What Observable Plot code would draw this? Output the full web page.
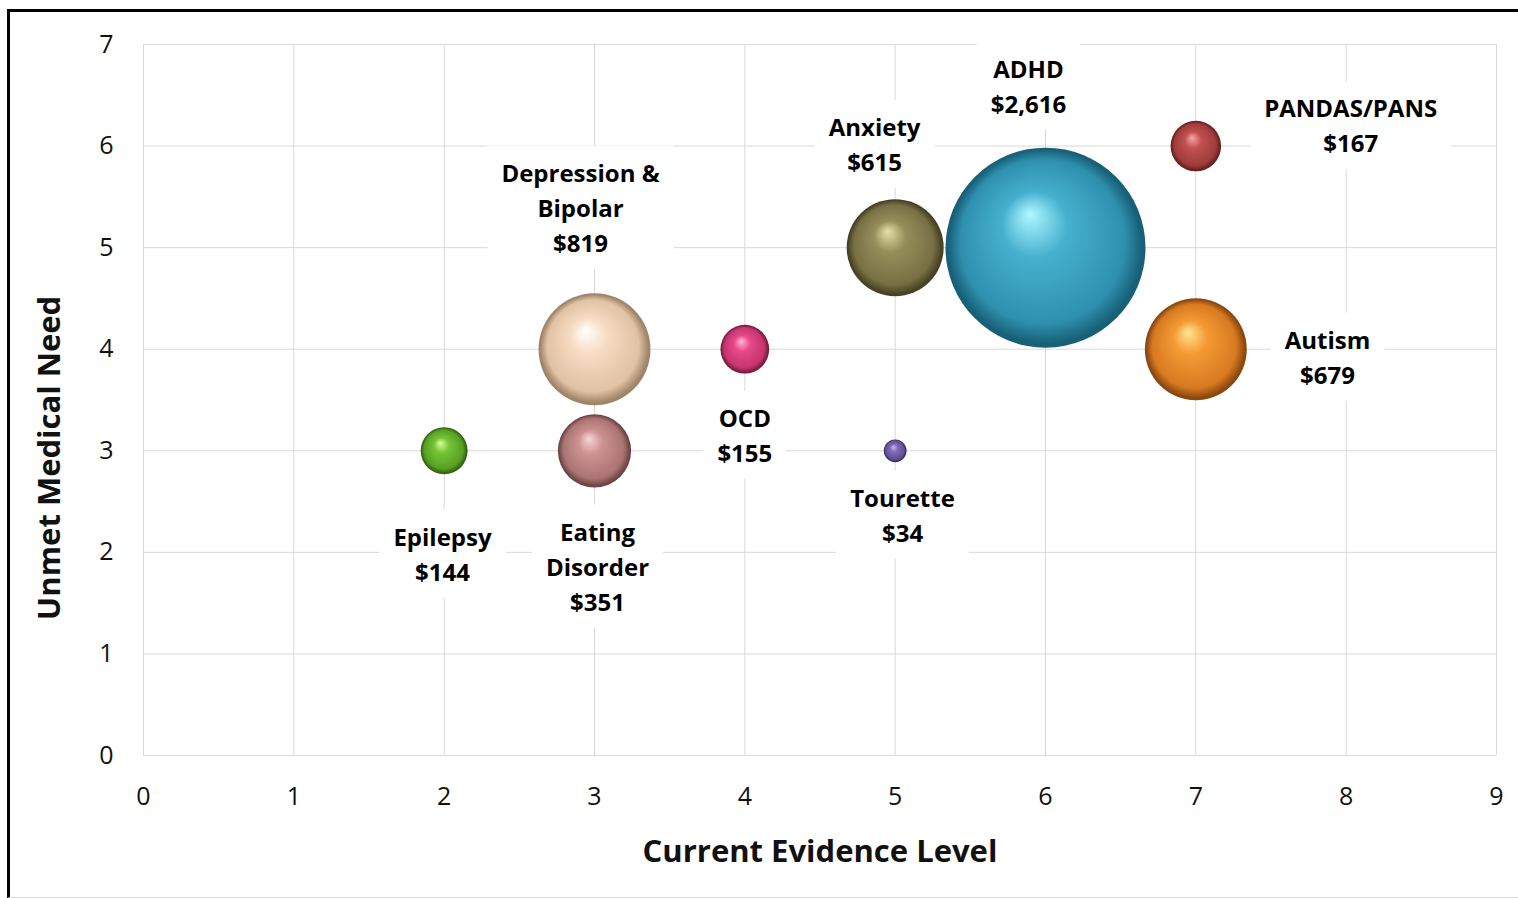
<!DOCTYPE html>
<html>
<head>
<meta charset="utf-8">
<script src="https://cdn.jsdelivr.net/npm/d3@7"></script>
<script src="https://cdn.jsdelivr.net/npm/@observablehq/plot@0.6"></script>
<style>
  html, body { margin: 0; padding: 0; background: #fff; }
  #wrap { position: relative; width: 1518px; height: 898px; overflow: hidden; }
  #frame { position: absolute; left: 7px; top: 9px; width: 1600px; height: 885px;
           border-left: 3px solid #000; border-top: 3px solid #000; border-bottom: 1px solid #ddd; }
  #chart { position: absolute; left: 0; top: 0; }
</style>
</head>
<body>
<div id="wrap"><div id="frame"></div><div id="chart"></div></div>
<script>
// ---- data ----
const conditions = ["ADHD", "PANDAS/PANS", "Anxiety", "Depression & Bipolar", "OCD", "Autism", "Tourette", "Eating Disorder", "Epilepsy"];
const evidenceLevel = [6, 7, 5, 3, 4, 7, 5, 3, 2];
const unmetNeed = [5, 6, 5, 4, 4, 4, 3, 3, 3];
const cost = [2616, 167, 615, 819, 155, 679, 34, 351, 144];
const labelText = ["ADHD\n$2,616", "PANDAS/PANS\n$167", "Anxiety\n$615", "Depression &\nBipolar\n$819", "OCD\n$155", "Autism\n$679", "Tourette\n$34", "Eating\nDisorder\n$351", "Epilepsy\n$144"];
const xTicks = [0, 1, 2, 3, 4, 5, 6, 7, 8, 9];
const yTicks = [0, 1, 2, 3, 4, 5, 6, 7];

// ---- styling / layout (not data) ----
const sphereColors = {
  "ADHD": ["#b0f8ff", "#46b0cf", "#2e90ae", "#186078"],
  "PANDAS/PANS": ["#f5a8a8", "#c25050", "#a03c3c", "#662020"],
  "Anxiety": ["#e6e0a8", "#958e5a", "#777044", "#474224"],
  "Depression & Bipolar": ["#ffffff", "#f7dcc2", "#e0c2a4", "#a08468"],
  "OCD": ["#ffb8d4", "#e8488a", "#c6346e", "#7a1a40"],
  "Autism": ["#ffe690", "#f49a34", "#d87a20", "#8a4810"],
  "Tourette": ["#cabef2", "#7e6cb8", "#604f94", "#382c5a"],
  "Eating Disorder": ["#f8d6d6", "#cc9292", "#ab7474", "#6e4444"],
  "Epilepsy": ["#d8ff98", "#74c436", "#58a024", "#326210"]
};
// label anchor positions (data units) as placed manually in the original chart
const labelPos = {
  "ADHD": [5.887, 6.61], "PANDAS/PANS": [8.03, 6.22], "Anxiety": [4.863, 6.04],
  "Depression & Bipolar": [2.907, 5.415], "OCD": [4.0, 3.176], "Autism": [7.876, 3.944],
  "Tourette": [5.049, 2.388], "Eating Disorder": [3.02, 1.881], "Epilepsy": [1.989, 2.004]
};

const rows = conditions.map((c, i) => ({
  name: c, x: evidenceLevel[i], y: unmetNeed[i], cost: cost[i], label: labelText[i],
  gid: "url(#sph" + i + ")", lx: labelPos[c][0], ly: labelPos[c][1]
}));

const FONT = "'Open Sans', Lato, sans-serif";

const plot = Plot.plot({
  width: 1518,
  height: 898,
  marginLeft: 143,
  marginRight: 22,
  marginTop: 44,
  marginBottom: 143,
  style: { fontFamily: FONT, background: "transparent", overflow: "visible" },
  x: { domain: [0, 9], ticks: xTicks },
  y: { domain: [0, 7], ticks: yTicks },
  r: { domain: [0, 2616], range: [0, 100] },
  color: { type: "identity" },
  marks: [
    Plot.gridX(xTicks, { stroke: "#d9d9d9", strokeOpacity: 1, strokeWidth: 1 }),
    Plot.gridY(yTicks, { stroke: "#d9d9d9", strokeOpacity: 1, strokeWidth: 1 }),
    Plot.axisX(xTicks, { tickSize: 0, tickPadding: 32, fontSize: 25, fill: "#111", label: null, tickFormat: d => String(d) }),
    Plot.axisY(yTicks, { tickSize: 0, tickPadding: 30, fontSize: 25, fill: "#111", label: null, tickFormat: d => String(d) }),
    Plot.text(["Current Evidence Level"], { frameAnchor: "bottom", dy: 106, fontSize: 31, fontWeight: "bold", fill: "#111" }),
    Plot.text(["Unmet Medical Need"], { frameAnchor: "left", textAnchor: "middle", dx: -93, dy: 58, rotate: -90, fontSize: 31, fontWeight: "bold", fill: "#111" }),
    Plot.text(rows, { x: "lx", y: "ly", text: "label", fontSize: 24, fontWeight: "bold", fill: "#000", lineHeight: 1.46, className: "lbl" }),
    Plot.dot(rows, { x: "x", y: "y", r: "cost", fill: "gid", stroke: "none", sort: { channel: "r", order: "descending" } })
  ]
});

document.getElementById("chart").appendChild(plot);

// sphere gradients
const svg = d3.select(plot);
const defs = svg.insert("defs", ":first-child");
rows.forEach((d, i) => {
  const c = sphereColors[d.name];
  const g = defs.append("radialGradient").attr("id", "sph" + i)
    .attr("cx", 0.5).attr("cy", 0.5).attr("r", 0.5).attr("fx", 0.42).attr("fy", 0.33);
  g.append("stop").attr("offset", 0).attr("stop-color", c[0]);
  g.append("stop").attr("offset", 0.33).attr("stop-color", c[1]);
  g.append("stop").attr("offset", 0.82).attr("stop-color", c[2]);
  g.append("stop").attr("offset", 0.97).attr("stop-color", c[3]);
  g.append("stop").attr("offset", 1).attr("stop-color", c[3]);
});

// white boxes behind labels (as in original data-label boxes)
svg.selectAll("g.lbl text").each(function () {
  const b = this.getBBox();
  d3.select(this.parentNode).insert("rect", () => this)
    .attr("transform", this.getAttribute("transform"))
    .attr("x", b.x - 14).attr("y", b.y - 10)
    .attr("width", b.width + 28).attr("height", b.height + 20)
    .attr("fill", "#fff");
});
</script>
</body>
</html>
